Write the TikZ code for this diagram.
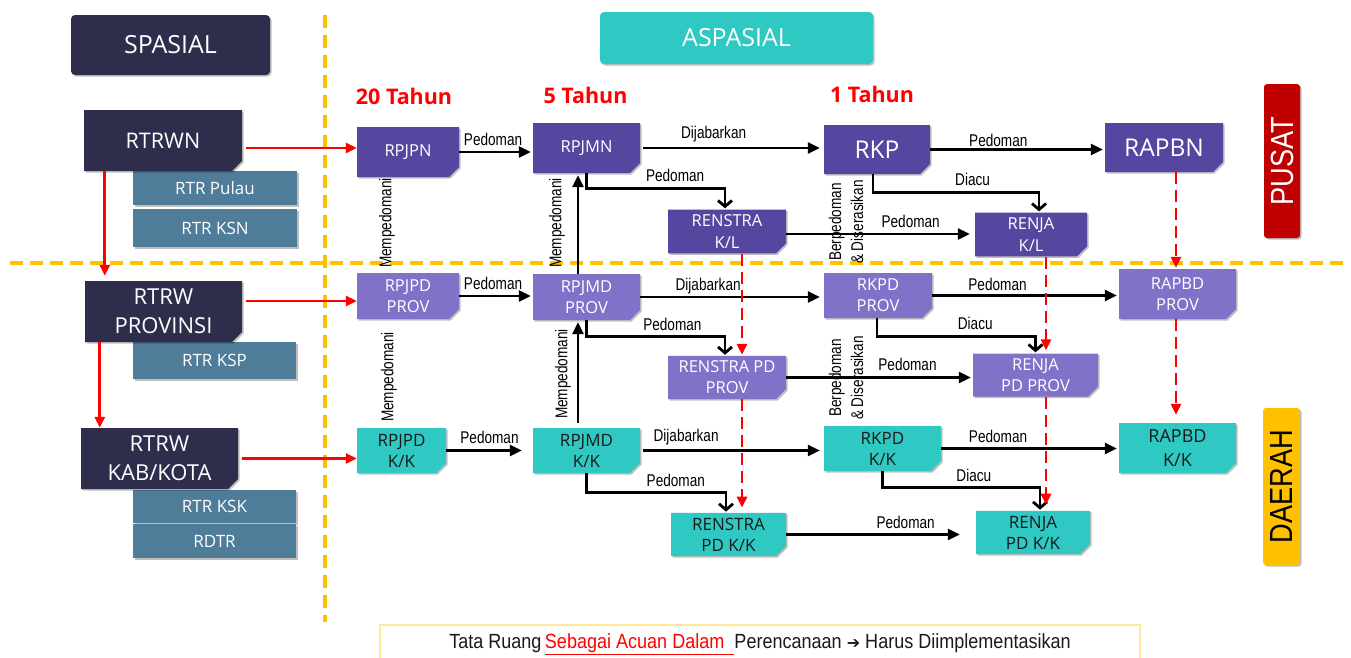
\documentclass[tikz,border=0pt]{standalone}
\usepackage{fontspec}
\setmainfont{Open Sans}
\newfontfamily\lblfont[FakeStretch=0.8]{Liberation Sans}
\newfontfamily\notefont[FakeStretch=0.88]{Liberation Sans}
\newfontfamily\sidefont[FakeStretch=0.85]{Liberation Sans}
\newfontfamily\djv{DejaVu Sans}
\usetikzlibrary{shapes.misc,arrows.meta,shadows}
\definecolor{navy}{HTML}{2E2E4C}
\definecolor{steel}{HTML}{4F7D99}
\definecolor{dpurple}{HTML}{5746A0}
\definecolor{lpurple}{HTML}{8171C8}
\definecolor{tealc}{HTML}{2FC8C3}
\definecolor{orangec}{HTML}{FFC000}
\definecolor{dred}{HTML}{C00000}
\definecolor{txtdark}{HTML}{1A1A1A}
\definecolor{lineyel}{HTML}{FFE699}
\tikzset{
  shad/.style={drop shadow={shadow xshift=1.5pt,shadow yshift=-1.5pt,opacity=0.25,fill=black}},
  base/.style={inner sep=0pt, align=center, shad},
  ear/.style={base, chamfered rectangle, chamfered rectangle corners=south east,
    chamfered rectangle xsep=5pt, chamfered rectangle ysep=5pt},
  hdr/.style={base, rectangle, rounded corners=4pt, text=white, font=\fontsize{25}{28}\selectfont},
  navybox/.style={ear, fill=navy, text=white, font=\fontsize{22}{29}\selectfont},
  subbox/.style={base, rectangle, fill=steel, text=white, font=\fontsize{17}{20}\selectfont},
  dp/.style={ear, fill=dpurple, text=white, font=\fontsize{16.5}{22}\selectfont},
  lp/.style={ear, fill=lpurple, text=white, font=\fontsize{16.5}{21}\selectfont},
  tl/.style={ear, fill=tealc, text=txtdark, font=\fontsize{17}{21}\selectfont},
  big/.style={font=\fontsize{24.5}{28}\selectfont},
  yr/.style={text=red, font=\bfseries\fontsize{21.5}{24}\selectfont},
  lbl/.style={font=\lblfont\fontsize{17}{22}\selectfont, inner sep=1pt, text=black},
  side/.style={base, rectangle, rounded corners=3pt, rotate=90, font=\sidefont\fontsize{32}{32}\selectfont},
  arr/.style={-{Triangle[length=12pt,width=11pt]}, line width=2.8pt, black, shorten >=2pt},
  earr/.style={-{Straight Barb[length=6pt,width=14pt]}, line width=2.8pt, black, shorten >=1pt},
  rarr/.style={-{Triangle[length=11pt,width=10pt]}, line width=2.8pt, red},
  rdarr/.style={rarr, dash pattern=on 12pt off 6pt},
  odash/.style={orangec, line width=3.5pt, dash pattern=on 13pt off 7pt}
}
\begin{document}
\begin{tikzpicture}[x=1pt,y=-1pt]
\useasboundingbox (0,0) rectangle (1351,657);
% guide lines
\draw[odash] (325,15) -- (325,622);
\draw[odash] (10,263) -- (1345,263);
% headers
\node[hdr, fill=navy, minimum width=199pt, minimum height=60pt] (spasial) at (170.5,45) {SPASIAL};
\node[hdr, fill=tealc, minimum width=273pt, minimum height=52pt] (aspasial) at (736.5,38) {ASPASIAL};
% year labels
\node[yr] (y20) at (404,96) {20 Tahun};
\node[yr] (y5) at (585.5,95) {5 Tahun};
\node[yr] (y1) at (872,94) {1 Tahun};
% spatial column
\node[subbox, minimum width=164pt, minimum height=34pt] (rtrpulau) at (215,188) {RTR Pulau};
\node[subbox, minimum width=164pt, minimum height=38pt] (rtrksn) at (215,228) {RTR KSN};
\node[navybox, minimum width=158pt, minimum height=61pt, font=\fontsize{21.5}{26}\selectfont] (rtrwn) at (163,140.5) {RTRWN};
\node[subbox, minimum width=163pt, minimum height=37pt] (rtrksp) at (214.5,360.5) {RTR KSP};
\node[navybox, minimum width=157pt, minimum height=61pt] (rtrwprov) at (163.5,311.5) {RTRW\\PROVINSI};
\node[subbox, minimum width=163pt, minimum height=33pt] (rtrksk) at (214.5,506.5) {RTR KSK};
\node[subbox, minimum width=163pt, minimum height=34pt] (rdtr) at (214.5,541) {RDTR};
\node[navybox, minimum width=157pt, minimum height=61pt] (rtrwkk) at (159.5,458.5) {RTRW\\KAB/KOTA};
% 20 tahun
\node[dp, minimum width=102pt, minimum height=50pt] (rpjpn) at (408,152) {RPJPN};
\node[lp, minimum width=102pt, minimum height=46pt] (rpjpdprov) at (408,296) {RPJPD\\PROV};
\node[tl, minimum width=89pt, minimum height=45pt] (rpjpdkk) at (401.5,450.5) {RPJPD\\K/K};
% 5 tahun
\node[dp, minimum width=107pt, minimum height=50pt] (rpjmn) at (586.5,148) {RPJMN};
\node[lp, minimum width=107pt, minimum height=46pt] (rpjmdprov) at (586.5,297) {RPJMD\\PROV};
\node[tl, minimum width=107pt, minimum height=45pt] (rpjmdkk) at (586.5,450.5) {RPJMD\\K/K};
\node[dp, minimum width=118pt, minimum height=41pt] (renstrakl) at (727,231.5) {RENSTRA\\K/L};
\node[lp, minimum width=118pt, minimum height=41pt] (renstraprov) at (727,377.5) {RENSTRA PD\\PROV};
\node[tl, minimum width=115pt, minimum height=41pt] (renstrakk) at (728.5,534.5) {RENSTRA\\PD K/K};
% 1 tahun
\node[dp, big, minimum width=106pt, minimum height=49pt] (rkp) at (877,149.5) {RKP};
\node[lp, minimum width=108pt, minimum height=45pt] (rkpdprov) at (878,295.5) {RKPD\\PROV};
\node[tl, minimum width=117pt, minimum height=45pt] (rkpdkk) at (882.5,448.5) {RKPD\\K/K};
\node[dp, minimum width=112pt, minimum height=41pt] (renjakl) at (1031,234.5) {RENJA\\K/L};
\node[lp, minimum width=125pt, minimum height=42pt] (renjaprov) at (1035.5,375) {RENJA\\PD PROV};
\node[tl, minimum width=114pt, minimum height=41pt] (renjakk) at (1033,532.5) {RENJA\\PD K/K};
\node[dp, big, minimum width=118pt, minimum height=49pt] (rapbn) at (1164,147.5) {RAPBN};
\node[lp, minimum width=117pt, minimum height=50pt] (rapbdprov) at (1177.5,294) {RAPBD\\PROV};
\node[tl, minimum width=117pt, minimum height=50pt, font=\fontsize{18}{24}\selectfont] (rapbdkk) at (1177.5,448) {RAPBD\\K/K};
% side labels
\node[side, fill=dred, text=white, minimum width=154pt, minimum height=36pt] (pusat) at (1282,161) {PUSAT};
\node[side, fill=orangec, text=black, minimum width=157pt, minimum height=37pt] (daerah) at (1281.5,486.5) {DAERAH};
% vertical labels
\node[lbl, rotate=90] (m1) at (387,223) {Mempedomani};
\node[lbl, rotate=90] (m2) at (557,223) {Mempedomani};
\node[lbl, rotate=90] (m3) at (389,377) {Mempedomani};
\node[lbl, rotate=90] (m4) at (563,374) {Mempedomani};
\node[lbl, rotate=90, align=center] (b1) at (846,222) {Berpedoman\\\& Diserasikan};
\node[lbl, rotate=90, align=center] (b2) at (846,378) {Berpedoman\\\& Diserasikan};
% red spatial arrows
\coordinate (r1) at ([xshift=4pt,yshift=-7.5pt]rtrwn.east);
\draw[rarr] (r1) -- (r1 -| rpjpn.west);
\coordinate (r2) at ([xshift=4pt,yshift=10.5pt]rtrwprov.east);
\draw[rarr] (r2) -- (r2 -| rpjpdprov.west);
\coordinate (r3) at ([xshift=4pt]rtrwkk.east);
\draw[rarr] (r3) -- (r3 -| rpjpdkk.west);
\coordinate (v1) at ([xshift=21pt]rtrwn.south west);
\draw[rarr, shorten >=5pt] (v1) -- (v1 |- rtrwprov.north);
\coordinate (v2) at ([xshift=15pt]rtrwprov.south west);
\draw[rarr] (v2) -- (v2 |- rtrwkk.north);
% horizontal black arrows
\draw[arr] (rpjpn.east) -- node[lbl, pos=.46, above=4pt] {Pedoman} (rpjpn.east -| rpjmn.west);
\draw[arr, shorten <=3pt, shorten >=4pt] (rpjmn.east) -- node[lbl, pos=.4, above=4pt] {Dijabarkan} (rpjmn.east -| rkp.west);
\draw[arr] (rkp.east) -- node[lbl, pos=.39, above=0pt] {Pedoman} (rkp.east -| rapbn.west);
\coordinate (h1) at ([yshift=-2.5pt]renstrakl.east);
\draw[arr, shorten >=5pt] (h1) -- node[lbl, pos=.66, above=4pt] {Pedoman} (h1 -| renjakl.west);
\draw[arr] (rpjpdprov.east) -- node[lbl, pos=.46, above=4pt] {Pedoman} (rpjpdprov.east -| rpjmdprov.west);
\draw[arr, shorten >=4pt] (rpjmdprov.east) -- node[lbl, pos=.37, above=1pt] {Dijabarkan} (rpjmdprov.east -| rkpdprov.west);
\draw[arr] (rkpdprov.east) -- node[lbl, pos=.35, above=2pt] {Pedoman} (rkpdprov.east -| rapbdprov.west);
\draw[arr] (renstraprov.east) -- node[lbl, pos=.65, above=4pt] {Pedoman} (renstraprov.east -| renjaprov.west);
\draw[arr, shorten >=11pt] (rpjpdkk.east) -- node[lbl, pos=.5, above=4pt] {Pedoman} (rpjpdkk.east -| rpjmdkk.west);
\draw[arr, shorten <=3pt, shorten >=4pt] (rpjmdkk.east) -- node[lbl, pos=.25, above=3pt] {Dijabarkan} (rpjmdkk.east -| rkpdkk.west);
\draw[arr] (rkpdkk.east) -- node[lbl, pos=.32, above=3pt] {Pedoman} (rkpdkk.east -| rapbdkk.west);
\draw[arr, shorten >=16pt] (renstrakk.east) -- node[lbl, pos=.63, above=3pt] {Pedoman} (renstrakk.east -| renjakk.west);
% vertical black arrows (Mempedomani)
\coordinate (ux) at (578,0);
\draw[arr] (rpjmdprov.north -| ux) -- (rpjmn.south -| ux);
\draw[arr, shorten <=5pt] (rpjmdkk.north -| ux) -- (rpjmdprov.south -| ux);
% elbow arrows
\draw[earr] (rpjmn.south) |- node[lbl, pos=.82, above=4pt] {Pedoman} ([xshift=-2pt,yshift=21pt]renstrakl.north) -- ([xshift=-2pt]renstrakl.north);
\draw[earr] ([xshift=-4pt]rkp.south) |- node[lbl, pos=.8, above=4pt] {Diacu} ([xshift=8pt,yshift=20pt]renjakl.north) -- ([xshift=8pt]renjakl.north);
\draw[earr] (rpjmdprov.south) |- node[lbl, pos=.81, above=4pt] {Pedoman} ([xshift=-2pt,yshift=19pt]renstraprov.north) -- ([xshift=-2pt]renstraprov.north);
\draw[earr] ([xshift=-1pt]rkpdprov.south) |- node[lbl, pos=.81, above=4pt] {Diacu} ([yshift=17pt]renjaprov.north) -- (renjaprov.north);
\draw[earr] (rpjmdkk.south) |- node[lbl, pos=.82, above=4pt] {Pedoman} ([xshift=-2.5pt,yshift=20pt]renstrakk.north) -- ([xshift=-2.5pt]renstrakk.north);
\draw[earr] (rkpdkk.south) |- node[lbl, pos=.79, above=4pt] {Diacu} ([xshift=7pt,yshift=23pt]renjakk.north) -- ([xshift=7pt]renjakk.north);
% red dashed arrows
\coordinate (rx) at (742,0);
\draw[rdarr, shorten >=1pt] (renstrakl.south -| rx) -- (renstraprov.north -| rx);
\draw[rdarr, shorten >=5pt] (renstraprov.south -| rx) -- (renstrakk.north -| rx);
\coordinate (jx) at (1046,0);
\draw[rdarr, shorten >=3pt] (renjakl.south -| jx) -- (renjaprov.north -| jx);
\draw[rdarr, shorten >=6pt] (renjaprov.south -| jx) -- (renjakk.north -| jx);
\coordinate (ax) at (1176,0);
\draw[rdarr, shorten >=1pt] (rapbn.south -| ax) -- (rapbdprov.north -| ax);
\draw[rdarr, shorten >=8pt] (rapbdprov.south -| ax) -- (rapbdkk.north -| ax);
% bottom note
\draw[lineyel, line width=1.5pt] (380,670) -- (380,625) -- (1140,625) -- (1140,670);
\node[font=\notefont\fontsize{20.5}{24}\selectfont, text=txtdark, inner sep=0pt] (note) at (760,644)
  {Tata Ruang\,{\color{red}\underline{Sebagai Acuan Dalam\ \ }}Perencanaan {\djv\fontsize{16}{20}\selectfont ➔} Harus Diimplementasikan};
\end{tikzpicture}
\end{document}
